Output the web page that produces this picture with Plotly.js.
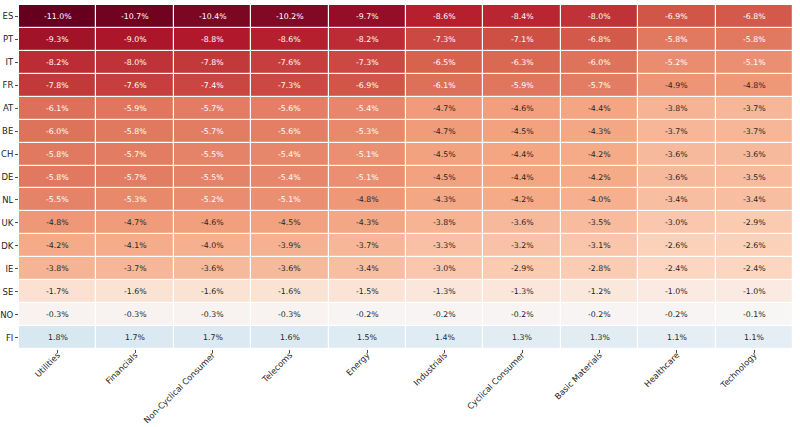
<!DOCTYPE html>
<html><head><meta charset="utf-8">
<script src="https://cdn.plot.ly/plotly-3.0.1.min.js"></script>
<style>html,body{margin:0;padding:0;background:#fff}#chart{width:800px;height:427px}</style>
</head><body><div id="chart"></div>
<script>
const sectors = ["Utilities","Financials","Non-Cyclical Consumer","Telecoms","Energy","Industrials","Cyclical Consumer","Basic Materials","Healthcare","Technology"];
const countries = ["ES","PT","IT","FR","AT","BE","CH","DE","NL","UK","DK","IE","SE","NO","FI"];
const ES = [-11.0,-10.7,-10.4,-10.2,-9.7,-8.6,-8.4,-8.0,-6.9,-6.8];
const PT = [-9.3,-9.0,-8.8,-8.6,-8.2,-7.3,-7.1,-6.8,-5.8,-5.8];
const IT = [-8.2,-8.0,-7.8,-7.6,-7.3,-6.5,-6.3,-6.0,-5.2,-5.1];
const FR = [-7.8,-7.6,-7.4,-7.3,-6.9,-6.1,-5.9,-5.7,-4.9,-4.8];
const AT = [-6.1,-5.9,-5.7,-5.6,-5.4,-4.7,-4.6,-4.4,-3.8,-3.7];
const BE = [-6.0,-5.8,-5.7,-5.6,-5.3,-4.7,-4.5,-4.3,-3.7,-3.7];
const CH = [-5.8,-5.7,-5.5,-5.4,-5.1,-4.5,-4.4,-4.2,-3.6,-3.6];
const DE = [-5.8,-5.7,-5.5,-5.4,-5.1,-4.5,-4.4,-4.2,-3.6,-3.5];
const NL = [-5.5,-5.3,-5.2,-5.1,-4.8,-4.3,-4.2,-4.0,-3.4,-3.4];
const UK = [-4.8,-4.7,-4.6,-4.5,-4.3,-3.8,-3.6,-3.5,-3.0,-2.9];
const DK = [-4.2,-4.1,-4.0,-3.9,-3.7,-3.3,-3.2,-3.1,-2.6,-2.6];
const IE = [-3.8,-3.7,-3.6,-3.6,-3.4,-3.0,-2.9,-2.8,-2.4,-2.4];
const SE = [-1.7,-1.6,-1.6,-1.6,-1.5,-1.3,-1.3,-1.2,-1.0,-1.0];
const NO = [-0.3,-0.3,-0.3,-0.3,-0.2,-0.2,-0.2,-0.2,-0.2,-0.1];
const FI = [1.8,1.7,1.7,1.6,1.5,1.4,1.3,1.3,1.1,1.1];

const z = [ES,PT,IT,FR,AT,BE,CH,DE,NL,UK,DK,IE,SE,NO,FI];

const rdbu = [[0,'#67001f'],[0.1,'#b2182b'],[0.2,'#d6604d'],[0.3,'#f4a582'],[0.4,'#fddbc7'],[0.5,'#f7f7f7'],[0.6,'#d1e5f0'],[0.7,'#92c5de'],[0.8,'#4393c3'],[0.9,'#2166ac'],[1,'#053061']];

const annotations = [];
z.forEach((row, i) => row.forEach((v, j) => {
  annotations.push({
    x: sectors[j], y: countries[i], xref: 'x', yref: 'y',
    text: v.toFixed(1) + '%', showarrow: false,
    font: {family: 'DejaVu Sans', size: 7.8, color: v < -5.0 ? '#ffffff' : '#262626'}
  });
}));

const trace = {
  type: 'heatmap', x: sectors, y: countries, z: z,
  colorscale: rdbu, zmin: -11, zmax: 11, showscale: false,
  xgap: 1.2, ygap: 1.2, hoverinfo: 'skip'
};

const layout = {
  width: 800, height: 427,
  margin: {l: 19, r: 7, t: 5, b: 78},
  paper_bgcolor: '#ffffff', plot_bgcolor: '#ffffff',
  font: {family: 'DejaVu Sans', size: 9, color: '#262626'},
  xaxis: {type: 'category', tickangle: -45, ticks: 'outside', ticklen: 3, tickwidth: 0.8, tickcolor: '#262626',
          ticklabelstandoff: -6,
          showgrid: false, zeroline: false, showline: false, tickfont: {size: 8.3, family: 'DejaVu Sans', color: '#262626'}},
  yaxis: {type: 'category', autorange: 'reversed', ticks: 'outside', ticklen: 3, tickwidth: 0.8, tickcolor: '#262626',
          showgrid: false, zeroline: false, showline: false, tickfont: {size: 8.5, family: 'DejaVu Sans', color: '#262626'}},
  annotations: annotations
};

Plotly.newPlot('chart', [trace], layout, {staticPlot: true, displayModeBar: false});
</script>
</body></html>
